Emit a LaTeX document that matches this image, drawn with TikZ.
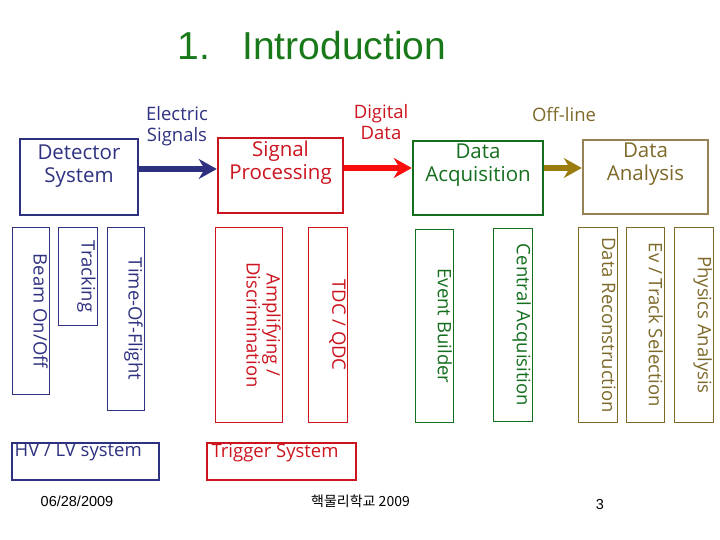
\documentclass[tikz,border=0pt]{standalone}
\usepackage{fontspec}
\setmainfont{Open Sans}
\newfontfamily\titlefont{Liberation Sans}
\newfontfamily\krfont{Noto Sans CJK KR}
\usetikzlibrary{positioning, arrows.meta, calc}

\definecolor{navyc}{RGB}{46,49,128}
\definecolor{redc}{RGB}{204,20,30}
\definecolor{arrowred}{RGB}{248,12,12}
\definecolor{greenc}{RGB}{20,110,30}
\definecolor{titlegreen}{RGB}{25,120,25}
\definecolor{olivec}{RGB}{125,105,40}
\definecolor{tanc}{RGB}{150,130,85}
\definecolor{arrowolive}{RGB}{155,125,15}

\begin{document}
\begin{tikzpicture}[x=1pt, y=-1pt,
        bigbox/.style={draw, line width=2.5pt, inner sep=0pt},
        boxtext/.style={anchor=north, align=center, inner sep=0pt, font=\fontsize{20.5}{23}\selectfont},
        lbl/.style={align=center, inner sep=0pt, font=\fontsize{18.5}{21}\selectfont},
        vbox/.style={draw, line width=1pt, inner sep=0pt},
        vtext/.style={rotate=-90, anchor=north, align=center, inner sep=1.5pt, font=\fontsize{18.5}{20}\selectfont},
        lowbox/.style={draw, line width=1.2pt, inner sep=0pt, minimum height=37pt},
        lowtext/.style={anchor=north west, inner sep=0pt, font=\fontsize{18.5}{21}\selectfont},
        flow/.style={line width=6pt, -{Stealth[length=18pt, width=20pt, inset=6pt]}},
        foot/.style={inner sep=0pt, font=\titlefont\fontsize{14.5}{16}\selectfont}
    ]
        \useasboundingbox (0,0) rectangle (720,540);

        % title
        \node[anchor=base, inner sep=0pt, text=titlegreen, font=\titlefont\fontsize{39}{44}\selectfont] (title) at (312,60) {1.\hspace{32pt}Introduction};

        % main chain
        \node[bigbox, navyc, minimum width=118pt, minimum height=76pt] (det) at (79,177) {};
        \node[bigbox, redc, minimum width=125pt, minimum height=75pt] (sig) at (280.5,175.5) {};
        \node[bigbox, greenc, minimum width=130pt, minimum height=74pt] (daq) at (478,178) {};
        \node[bigbox, tanc, minimum width=125pt, minimum height=74pt] (ana) at (645.5,177) {};

        \node[boxtext, text=navyc] (det-txt) at ([yshift=-7pt]det.north) {Detector\\System};
        \node[boxtext, text=redc] (sig-txt) at ([yshift=-4pt]sig.north) {Signal\\Processing};
        \node[boxtext, text=greenc] (daq-txt) at ([yshift=-4pt]daq.north) {Data\\Acquisition};
        \node[boxtext, text=olivec] (ana-txt) at ([yshift=-4pt]ana.north) {Data\\Analysis};

        \draw[flow, navyc] ([yshift=8pt]det.east) -- ([yshift=8pt]det.east -| sig.west);
        \draw[flow, arrowred] ([yshift=7.5pt]sig.east) -- ([yshift=7.5pt]sig.east -| daq.west);
        \draw[flow, arrowolive] ([yshift=10pt]daq.east) -- ([yshift=10pt]daq.east -| ana.west);

        \node[lbl, text=navyc] (elec) at (177,126) {Electric\\Signals};
        \node[lbl, text=redc] (digi) at (381,122.5) {Digital\\Data};
        \node[lbl, text=olivec] (offl) at (564,115) {Off-line};

        % vertical boxes
        \foreach \name/\cx/\cy/\boxlen/\boxwid/\col/\txt in {
            beam/30.5/311/166/37/navyc/{Beam On/Off},
            track/77.5/276.5/97/39/navyc/{Tracking},
            tof/125.5/319/182/37/navyc/{Time-Of-Flight},
            amp/248.5/325/194/67/redc/{Amplifying /\\Discrimination},
            tdc/327.5/325/194/39/redc/{TDC / QDC},
            evb/434/326/192/38/greenc/{Event Builder},
            cacq/512.5/325/192/39/greenc/{Central Acquisition},
            reco/597.5/325/194/39/olivec/{Data Reconstruction},
            sel/645/325/194/38/olivec/{Ev / Track Selection},
            phys/693.5/325/194/39/olivec/{Physics Analysis}}
        {
            \node[vbox, draw=\col, minimum width=\boxwid pt, minimum height=\boxlen pt] (\name) at (\cx,\cy) {};
            \node[vtext, text=\col] (\name-txt) at (\name.east) {\txt};
        }

        % bottom boxes
        \node[lowbox, navyc, minimum width=147pt] (hv) at (85.5,461.5) {};
        \node[lowtext, text=navyc] (hv-txt) at ([shift={(3pt,-1pt)}]hv.north west) {HV / LV system};
        \node[lowbox, redc, minimum width=149pt] (trig) at (281.5,461.5) {};
        \node[lowtext, text=redc] (trig-txt) at ([shift={(5pt,-1pt)}]trig.north west) {Trigger System};

        % footer
        \node[foot] (date) at (77,501) {06/28/2009};
        \node[inner sep=0pt, font=\krfont\fontsize{14}{16}\selectfont] (school) at (360.5,501) {핵물리학교 2009};
        \node[foot] (pagenum) at (600,505) {3};
    \end{tikzpicture}
\end{document}
